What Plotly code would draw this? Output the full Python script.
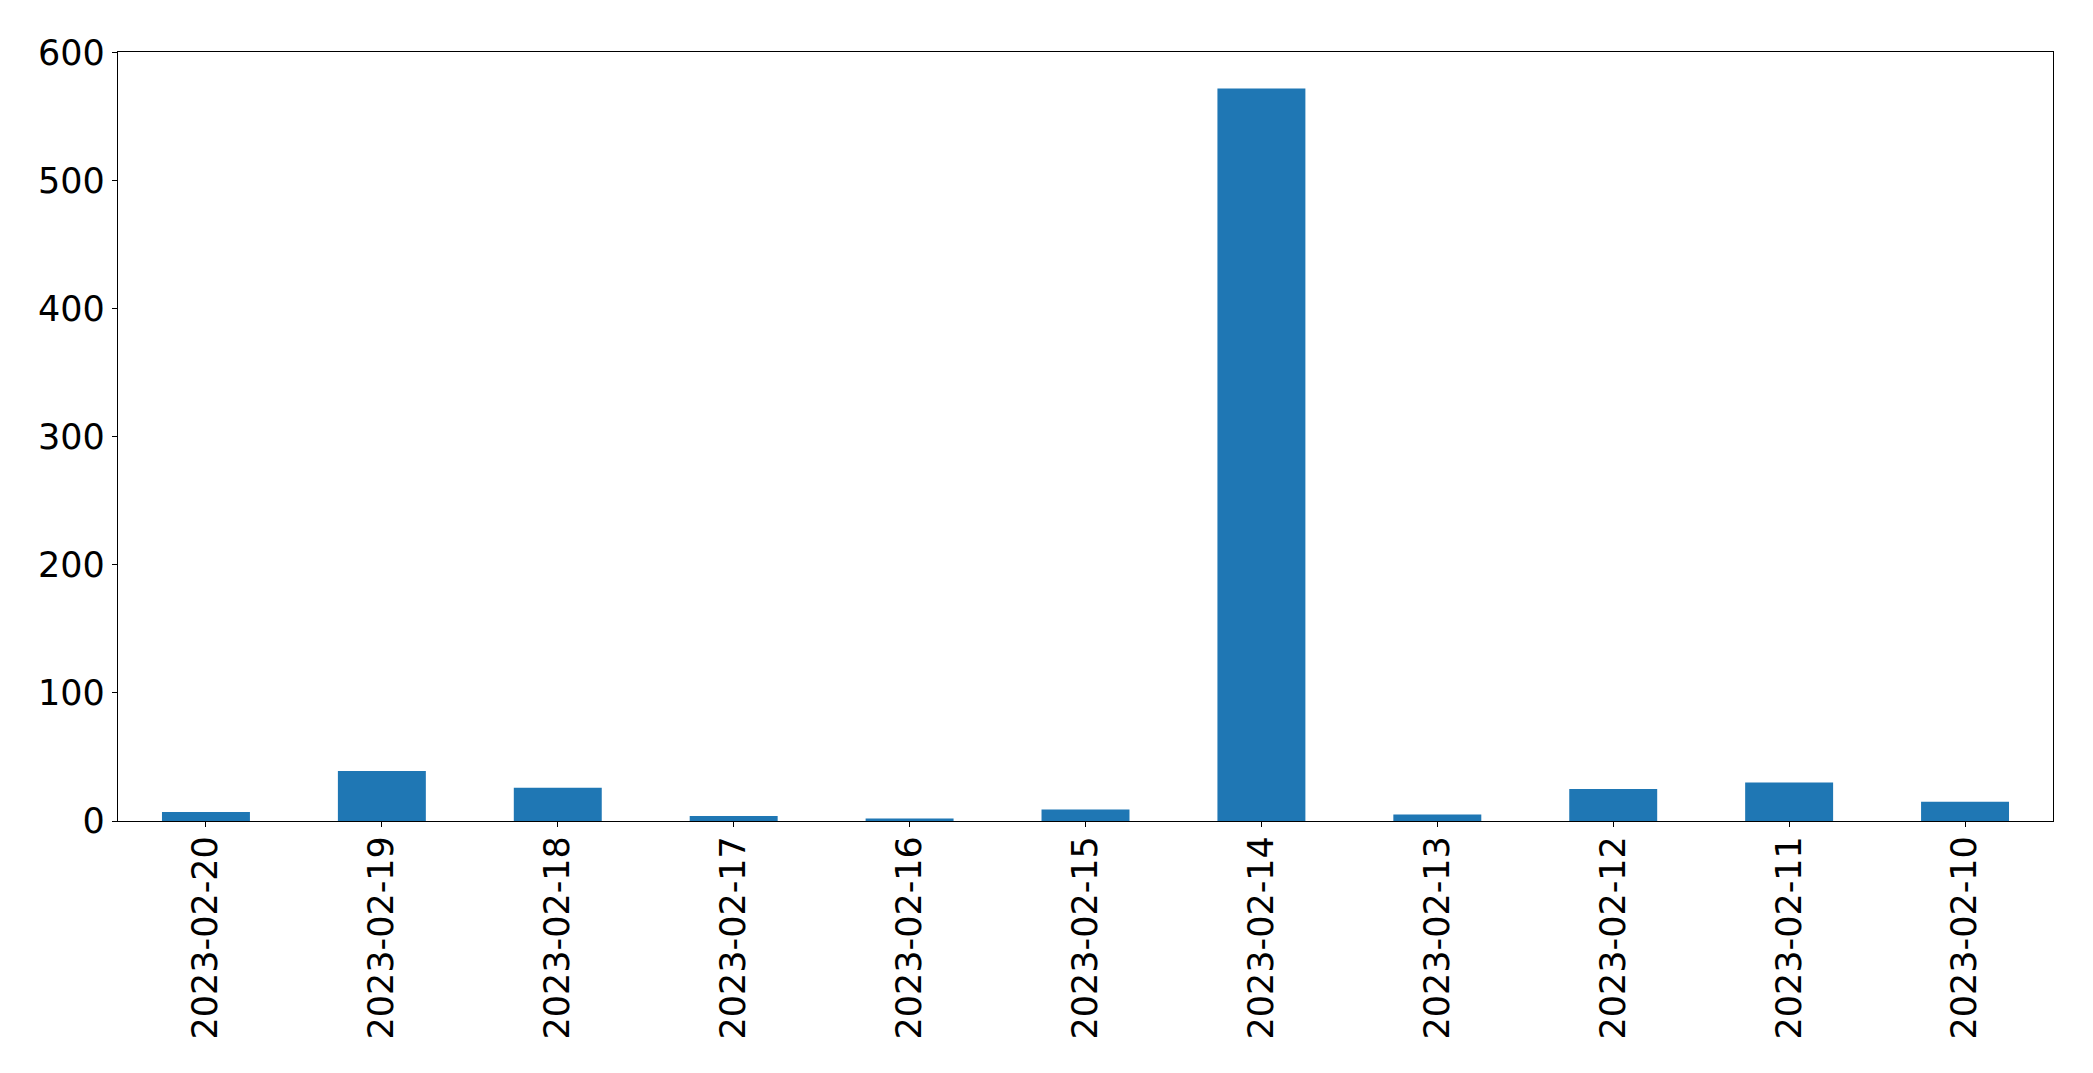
import plotly.graph_objects as go

dates = ["2023-02-20", "2023-02-19", "2023-02-18", "2023-02-17", "2023-02-16",
         "2023-02-15", "2023-02-14", "2023-02-13", "2023-02-12", "2023-02-11",
         "2023-02-10"]
counts = [7, 39, 26, 4, 2, 9, 572, 5, 25, 30, 15]
y_ticks = [0, 100, 200, 300, 400, 500, 600]

fig = go.Figure(go.Bar(x=list(range(len(dates))), y=counts, width=0.5,
                       marker=dict(color="#1f77b4", line=dict(width=0))))

font = dict(family="DejaVu Sans", size=35, color="black")
fig.update_layout(
    width=2093, height=1073,
    margin=dict(l=110, r=48, t=44, b=260),
    paper_bgcolor="white", plot_bgcolor="white",
    showlegend=False, font=font,
    xaxis=dict(range=[-0.5, len(dates) - 0.5], tickmode="array",
               tickvals=list(range(len(dates))), ticktext=dates, tickangle=-90,
               showline=True, mirror=True, linecolor="black", linewidth=1.3,
               ticks="outside", ticklen=5, tickcolor="black", showgrid=False,
               zeroline=False, tickfont=font, ticklabelstandoff=-5),
    yaxis=dict(range=[0, 600.6], tickmode="array", tickvals=y_ticks,
               showline=True, mirror=True, linecolor="black", linewidth=1.3,
               ticks="outside", ticklen=5, tickcolor="black", showgrid=False,
               zeroline=False, tickfont=font),
)
fig.write_html("out.html")
